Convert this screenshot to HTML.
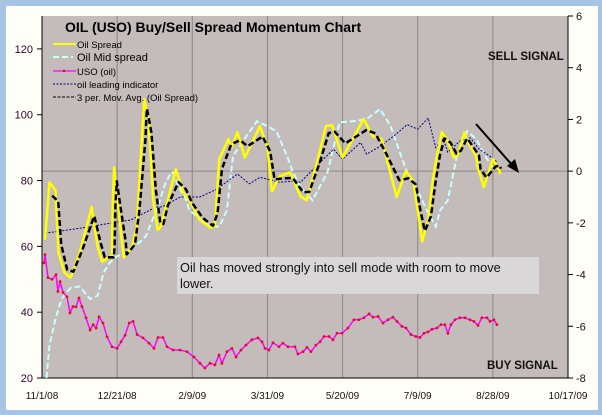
<!DOCTYPE html>
<html><head><meta charset="utf-8"><style>
body{margin:0;background:#a6c4e4;}
svg{display:block;font-family:"Liberation Sans",sans-serif;}
</style></head><body>
<svg id="c" width="602" height="415">
<rect x="0" y="0" width="602" height="415" fill="#a6c4e4"/>
<rect x="6" y="6" width="592" height="404" fill="#fffff7"/>
<rect x="42" y="16" width="526" height="362" fill="#c4bcbb"/>
<g id="grid"></g>
<g id="axes"></g>
<g id="series"></g>
<text x="65" y="32" font-size="14" font-weight="bold" fill="#000">OIL (USO) Buy/Sell Spread Momentum Chart</text>
<g font-size="9.5">
 <g><line x1="53" y1="44" x2="76" y2="44" stroke="#ffff00" stroke-width="2"/><text x="77" y="48">Oil Spread</text></g>
 <g><line x1="53" y1="57" x2="73" y2="57" stroke="#c8ffff" stroke-width="2" stroke-dasharray="6,3"/><text x="77" y="61" font-size="11">Oil Mid spread</text></g>
 <g><line x1="53" y1="71" x2="76" y2="71" stroke="#ff00ff" stroke-width="1.2"/><circle cx="64" cy="71" r="1.2" fill="#e00"/><text x="77" y="75">USO (oil)</text></g>
 <g><line x1="53" y1="84" x2="76" y2="84" stroke="#000080" stroke-width="1" stroke-dasharray="2,1.5"/><text x="77" y="88">oil leading indicator</text></g>
 <g><line x1="53" y1="97" x2="76" y2="97" stroke="#000" stroke-width="1" stroke-dasharray="3,1.5"/><text x="77" y="101">3 per. Mov. Avg. (Oil Spread)</text></g>
</g>
<text x="488" y="60" font-size="11.5" font-weight="bold" fill="#111">SELL SIGNAL</text>
<text x="487" y="369" font-size="11.5" font-weight="bold" fill="#111">BUY SIGNAL</text>
<g>
<rect x="177" y="257" width="362" height="37" fill="#d9d7d7"/>
<text x="180" y="272" font-size="12.8" fill="#111">Oil has moved strongly into sell mode with room to move</text>
<text x="180" y="288" font-size="12.8" fill="#111">lower.</text>
</g>
<g>
<line x1="476" y1="124" x2="513" y2="166" stroke="#000" stroke-width="2"/>
<polygon points="519,173 507,166 515,159" fill="#000"/>
</g>
</svg>
<script>
const xTickLabels=["11/1/08","12/21/08","2/9/09","3/31/09","5/20/09","7/9/09","8/28/09","10/17/09"];
const leftTicks=[20,40,60,80,100,120];
const rightTicks=[-8,-6,-4,-2,0,2,4,6];
// series: [days since 11/1/08, value in left-axis units]
const oilSpread=[[2,62],[5,79.4],[9,77],[11,58],[15,52],[19,50.5],[25,58],[32,70],[33,72],[37,60],[40,55.4],[46,57],[46.5,57],[47,72],[48,84],[50,75],[54,58],[54.5,56.6],[60,60],[63,66],[67,97],[68,104.7],[71,98],[74,74],[77,65],[79,66],[82,71],[89,83.4],[94,76.4],[98,74],[105,68],[112,65.7],[115,66],[118,86.5],[124,92.6],[126,90],[130,94.7],[135,87],[145,96.5],[150,90.4],[153,76.7],[158,81.3],[165,82.5],[172,75.2],[176,74],[183,85.5],[189,96.6],[193,96.8],[200,87],[214,98.7],[220,93.5],[226,92.6],[236,75],[242,82.8],[247,80],[250,71],[253,61.5],[257,68],[260,80],[263,88],[266,94.7],[270,92],[274,87],[277,88],[281,94.7],[283,92],[289,87.4],[290,84],[294,78],[300,86.5],[303,84],[303.5,84],[305,82]];
const midSpread=[[3,20],[5,30],[9,38],[13,44],[19,47.4],[25,47.8],[32,44],[37,45],[41,52],[45,55],[50,57],[56,58],[62,60],[69,63],[77,72],[82,79],[86,82.5],[87,82.5],[91,78],[96,74],[98,71],[112,66],[118,66],[123,71],[127,87.4],[136,93.5],[143,98],[150,96.5],[156,95],[163,87.4],[167,82.5],[172,78],[180,74],[190,82.5],[198,97.7],[207,98],[216,98.7],[225,101.7],[232,96.5],[238,88.6],[243,82.5],[252,75],[256,71],[262,66],[265,71],[270,74],[276,87.4],[283,95],[289,92.6],[295,87.4],[300,84]];
const leadInd=[[2,64],[25,65.5],[45,67],[59,68],[76,72],[80,72],[92,75],[105,75],[116,77.3],[130,82],[138,79],[145,81],[158,79.5],[167,79.8],[172,79.5],[185,85.5],[194,89.5],[200,86.5],[212,91.6],[216,88],[225,90.4],[234,93.5],[243,97],[250,95.6],[257,99],[262,90],[267,92.6],[270,88.6],[278,92],[285,93],[291,89.5],[298,87.4],[303,85.5]];
const uso=[[1.3,55],[2,57.5],[4,50.5],[6.7,50],[9.3,51.4],[10.6,46.3],[12,49.3],[14,46],[16.6,44.7],[18.6,39.8],[20.6,41.7],[22.6,41.6],[24.6,44.3],[26.6,41.7],[29.3,38.3],[32,34.6],[34,36.2],[36,35.2],[38,38.6],[40.6,36.7],[43.3,32.5],[46.6,29.5],[50,29],[52.6,31],[55.3,33],[58,36.7],[60.6,37.2],[63.3,33.2],[67.2,32.2],[71.2,30.6],[74.5,29],[77.2,32.3],[80.5,32.3],[83.2,29.5],[87.2,28.5],[91.8,28.5],[96.5,28],[101.1,26.4],[105.1,24.5],[108.4,23],[111.8,24.5],[115.1,24],[117.8,27],[119.7,24.5],[123.1,28],[126.4,29],[129.1,26.4],[132.4,28.5],[135.7,30],[139.7,31.6],[143.7,32.2],[146.4,31],[148.4,29],[151,28.5],[153.7,30.7],[157.7,29.5],[160.3,30.6],[163.7,29.5],[168.3,29.5],[170.3,27.3],[173.7,28],[176.3,29.3],[179,28],[182.3,30],[185,31],[187.6,32.6],[191,32.6],[193.6,31.6],[196.3,33.6],[199.6,33.6],[203.6,35.2],[207.6,37.7],[210.9,37.7],[214.2,38.3],[217.6,39.5],[220.2,38.5],[223.6,38.7],[226.9,36.7],[230.2,37.7],[233.5,38.5],[236.2,37.2],[239.5,35.7],[242.2,35.2],[245.5,33.2],[248.8,32.6],[251.5,32.3],[254.2,33.6],[256.8,34],[259.5,34.8],[262.8,35.2],[265.5,36.2],[268.1,36.2],[270.1,33.6],[272.1,36.2],[274.8,37.7],[278.1,38.3],[281.4,38.3],[284.8,37.7],[287.4,37.2],[290.1,36],[292.7,38.3],[296.1,38.3],[298.1,37.2],[300.7,37.7],[302.7,36.2]];

const NS="http://www.w3.org/2000/svg";
const PL=42,PR=568,PT=16,PB=378;
const xS=d=>PL+d*(PR-PL)/350;
const yL=v=>PB-(v-20)*(PB-PT)/110;
const yR=v=>PB-(v+8)*(PB-PT)/14;
function mk(tag,parent,attrs){const e=document.createElementNS(NS,tag);for(const k in attrs)e.setAttribute(k,attrs[k]);parent.appendChild(e);return e;}
const grid=document.getElementById('grid'),axes=document.getElementById('axes'),ser=document.getElementById('series');
xTickLabels.forEach((t,i)=>{const x=xS(i*50);
 if(i>0&&i<xTickLabels.length-1){const g=mk('line',grid,{x1:x,y1:PT,x2:x,y2:PB,stroke:'#8a8585','stroke-width':1});
 
 }
 const tx=mk('text',axes,{x:x,y:PB+21,'font-size':10,'text-anchor':'middle',fill:'#111'});tx.textContent=t;
 
 });
const hz=mk('line',grid,{x1:PL,y1:yR(0),x2:PR,y2:yR(0),stroke:'#8a8585','stroke-width':1});


mk('line',axes,{x1:PL,y1:PT,x2:PL,y2:PB,stroke:'#000','stroke-width':1});
mk('line',axes,{x1:PR,y1:PT,x2:PR,y2:PB,stroke:'#000','stroke-width':1});
mk('line',axes,{x1:PL,y1:PB,x2:PR,y2:PB,stroke:'#000','stroke-width':1});
leftTicks.forEach(v=>{const y=yL(v);mk('line',axes,{x1:PL-5,y1:y,x2:PL,y2:y,stroke:'#000'});
 const t=mk('text',axes,{x:PL-9,y:y+4,'font-size':11,'text-anchor':'end',fill:'#300030'});t.textContent=v;
 
 });
rightTicks.forEach(v=>{const y=yR(v);mk('line',axes,{x1:PR,y1:y,x2:PR+5,y2:y,stroke:'#000'});
 const t=mk('text',axes,{x:PR+8,y:y+4,'font-size':11,fill:'#111'});t.textContent=v;
 
 });
function path(pts){return pts.map((p,i)=>(i?'L':'M')+xS(p[0]).toFixed(1)+','+yL(p[1]).toFixed(1)).join('');}
const ma=oilSpread.map((p,i)=>{const a=oilSpread[Math.max(0,i-1)][1],b=p[1],c=oilSpread[Math.min(oilSpread.length-1,i+1)][1];return [p[0]+1.8,0.2*a+0.6*b+0.2*c];}).slice(1,-1);
let e;
e=mk('path',ser,{d:path(midSpread),fill:'none',stroke:'#c8ffff','stroke-width':2,'stroke-dasharray':'6,3'});


e=mk('path',ser,{d:path(leadInd),fill:'none',stroke:'#000080','stroke-width':1,'stroke-dasharray':'2,1.5'});


e=mk('path',ser,{d:path(oilSpread),fill:'none',stroke:'#ffff00','stroke-width':2.5,'stroke-linejoin':'round'});


e=mk('path',ser,{d:path(ma),fill:'none',stroke:'#000','stroke-width':2.5,'stroke-dasharray':'6,3','stroke-linejoin':'round'});


e=mk('path',ser,{d:path(uso),fill:'none',stroke:'#ff00ff','stroke-width':1.5});


uso.forEach(p=>{const c=mk('circle',ser,{cx:xS(p[0]),cy:yL(p[1]),r:1.4,fill:'#e0102a'});
 
 });
</script>
</body></html>
